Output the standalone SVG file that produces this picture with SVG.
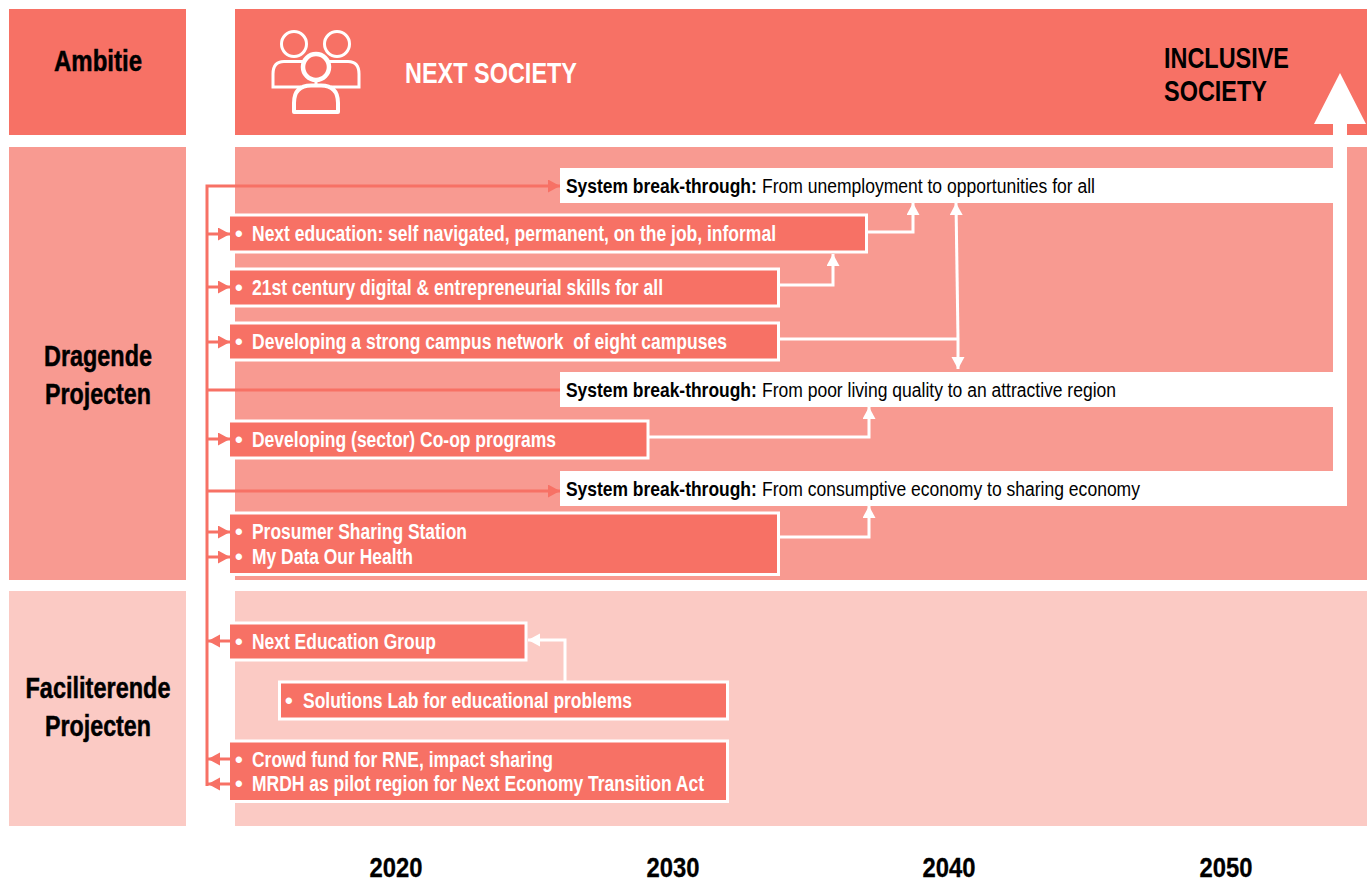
<svg xmlns="http://www.w3.org/2000/svg" width="1367" height="881" viewBox="0 0 1367 881">
<style>
text{font-family:"Liberation Sans Narrow","Liberation Sans",Arial,sans-serif}
.hd{font-weight:700;font-size:30px;fill:#000;stroke:#000;stroke-width:.5;text-anchor:middle}
.yr{font-weight:700;font-size:27px;fill:#000;stroke:#000;stroke-width:.3;text-anchor:middle}
.box{fill:#F77165;stroke:#fff;stroke-width:3}
.lb{font-weight:700;font-size:22px;fill:#fff}
.sb{font-size:20px;fill:#000}
.sbb{font-size:20px;fill:#000;font-weight:700}
.cw{fill:none;stroke:#fff;stroke-width:3}
.cr{fill:none;stroke:#F77165;stroke-width:3}
.bar{fill:#fff}
</style>
<defs>
<marker id="aw" markerUnits="userSpaceOnUse" markerWidth="14" markerHeight="14" refX="12" refY="6.500" orient="auto"><path d="M0 0L12 6.500L0 13Z" fill="#fff"/></marker>
<marker id="ar" markerUnits="userSpaceOnUse" markerWidth="14" markerHeight="14" refX="12" refY="6.500" orient="auto"><path d="M0 0L12 6.500L0 13Z" fill="#F77165"/></marker>
</defs>
<g id="bands">
<rect x="9" y="9" width="177" height="126" fill="#F77165"/>
<rect x="235" y="9" width="1132" height="126" fill="#F77165"/>
<rect x="9" y="147" width="177" height="433" fill="#F89A91"/>
<rect x="235" y="147" width="1132" height="433" fill="#F89A91"/>
<rect x="9" y="591" width="177" height="235" fill="#FBCAC4"/>
<rect x="235" y="591" width="1132" height="235" fill="#FBCAC4"/>
</g>
<g id="headers">
<text class="hd" x="98" y="71" textLength="88" lengthAdjust="spacingAndGlyphs">Ambitie</text>
<text class="hd" x="98" y="366" textLength="108" lengthAdjust="spacingAndGlyphs">Dragende</text>
<text class="hd" x="98" y="404" textLength="106" lengthAdjust="spacingAndGlyphs">Projecten</text>
<text class="hd" x="98" y="698" textLength="145" lengthAdjust="spacingAndGlyphs">Faciliterende</text>
<text class="hd" x="98" y="736" textLength="106" lengthAdjust="spacingAndGlyphs">Projecten</text>
</g>
<g id="icon" fill="none" stroke="#fff" stroke-width="3">
<circle cx="294" cy="44" r="12.500"/>
<circle cx="337" cy="44" r="12.500"/>
<path d="M303 61.500H284Q273 61.500 273 74V87H301M329 61.500H348Q359 61.500 359 74V87H331"/>
<circle cx="316" cy="67" r="13" stroke-width="4.500"/>
<path d="M316 80V85" stroke-width="3"/>
<path d="M294 112V103Q294 85.500 311 85.500H321Q338 85.500 338 103V112Z" stroke-width="4" stroke-linejoin="round"/>
</g>
<g id="next-society"><text x="405" y="83" font-weight="700" font-size="30" fill="#fff" textLength="172" lengthAdjust="spacingAndGlyphs">NEXT SOCIETY</text></g>
<g id="inclusive-society" font-weight="700" font-size="30" fill="#000">
<text x="1164" y="68" textLength="125" lengthAdjust="spacingAndGlyphs">INCLUSIVE</text>
<text x="1164" y="101" textLength="103" lengthAdjust="spacingAndGlyphs">SOCIETY</text>
</g>
<g id="breakthroughs">
<rect class="bar" x="560" y="168" width="773" height="35"/>
<rect class="bar" x="560" y="372" width="773" height="35"/>
<rect class="bar" x="560" y="471" width="787" height="35"/>
<path class="bar" d="M1333 506V124H1314L1340 73L1366 124H1347V506Z"/>
<text class="sbb" transform="translate(566 193) scale(.872 1)">System break-through:</text>
<text class="sb" x="762" y="193" textLength="333" lengthAdjust="spacingAndGlyphs">From unemployment to opportunities for all</text>
<text class="sbb" transform="translate(566 397) scale(.872 1)">System break-through:</text>
<text class="sb" x="762" y="397" textLength="354" lengthAdjust="spacingAndGlyphs">From poor living quality to an attractive region</text>
<text class="sbb" transform="translate(566 496) scale(.872 1)">System break-through:</text>
<text class="sb" x="762" y="496" textLength="378" lengthAdjust="spacingAndGlyphs">From consumptive economy to sharing economy</text>
</g>
<g id="n1"><rect class="box" x="228.500" y="215" width="638" height="37"/><text class="lb" x="235" y="241">•</text><text class="lb" x="252" y="241" textLength="524" lengthAdjust="spacingAndGlyphs">Next education: self navigated, permanent, on the job, informal</text></g>
<g id="n2"><rect class="box" x="228.500" y="269" width="550" height="37"/><text class="lb" x="235" y="295">•</text><text class="lb" x="252" y="295" textLength="411" lengthAdjust="spacingAndGlyphs">21st century digital &amp; entrepreneurial skills for all</text></g>
<g id="n3"><rect class="box" x="228.500" y="323" width="550" height="37"/><text class="lb" x="235" y="349">•</text><text class="lb" x="252" y="349" textLength="475" lengthAdjust="spacingAndGlyphs" xml:space="preserve">Developing a strong campus network  of eight campuses</text></g>
<g id="n4"><rect class="box" x="228.500" y="421" width="419.500" height="37"/><text class="lb" x="235" y="447">•</text><text class="lb" x="252" y="447" textLength="304" lengthAdjust="spacingAndGlyphs">Developing (sector) Co-op programs</text></g>
<g id="n5"><rect class="box" x="228.500" y="513" width="550" height="61.500"/><text class="lb" x="235" y="539">•</text><text class="lb" x="252" y="539" textLength="215" lengthAdjust="spacingAndGlyphs">Prosumer Sharing Station</text><text class="lb" x="235" y="564">•</text><text class="lb" x="252" y="564" textLength="161" lengthAdjust="spacingAndGlyphs">My Data Our Health</text></g>
<g id="n6"><rect class="box" x="228.500" y="623" width="297.500" height="37"/><text class="lb" x="235" y="649">•</text><text class="lb" x="252" y="649" textLength="184" lengthAdjust="spacingAndGlyphs">Next Education Group</text></g>
<g id="n7"><rect class="box" x="279.500" y="682" width="448" height="37"/><text class="lb" x="285" y="708">•</text><text class="lb" x="303" y="708" textLength="329" lengthAdjust="spacingAndGlyphs">Solutions Lab for educational problems</text></g>
<g id="n8"><rect class="box" x="228.500" y="741" width="499" height="60.500"/><text class="lb" x="235" y="767">•</text><text class="lb" x="252" y="767" textLength="301" lengthAdjust="spacingAndGlyphs">Crowd fund for RNE, impact sharing</text><text class="lb" x="235" y="791">•</text><text class="lb" x="252" y="791" textLength="452" lengthAdjust="spacingAndGlyphs">MRDH as pilot region for Next Economy Transition Act</text></g>
<g id="connectors">
<path class="cr" d="M207 786V186H560" marker-end="url(#ar)"/>
<path class="cr" d="M207 390H560"/>
<path class="cr" d="M207 491H560" marker-end="url(#ar)"/>
<path class="cr" d="M207 234H230" marker-end="url(#ar)"/>
<path class="cr" d="M207 287H230" marker-end="url(#ar)"/>
<path class="cr" d="M207 342H230" marker-end="url(#ar)"/>
<path class="cr" d="M207 439H230" marker-end="url(#ar)"/>
<path class="cr" d="M207 532H230" marker-end="url(#ar)"/>
<path class="cr" d="M207 557H230" marker-end="url(#ar)"/>
<path class="cr" d="M230 641H208" marker-end="url(#ar)"/>
<path class="cr" d="M230 759H208" marker-end="url(#ar)"/>
<path class="cr" d="M230 784H208" marker-end="url(#ar)"/>
<path class="cw" d="M867 232H913V203" marker-end="url(#aw)"/>
<path class="cw" d="M779 285H833V254" marker-end="url(#aw)"/>
<path class="cw" d="M779 339H958"/>
<path class="cw" d="M958 339L956 203" marker-end="url(#aw)"/>
<path class="cw" d="M958 339V369" marker-end="url(#aw)"/>
<path class="cw" d="M648 437H869V407" marker-end="url(#aw)"/>
<path class="cw" d="M779 537H869V506" marker-end="url(#aw)"/>
<path class="cw" d="M565 682V640H528" marker-end="url(#aw)"/>
</g>
<g id="years">
<text class="yr" x="396" y="877" textLength="53" lengthAdjust="spacingAndGlyphs">2020</text>
<text class="yr" x="673" y="877" textLength="53" lengthAdjust="spacingAndGlyphs">2030</text>
<text class="yr" x="949" y="877" textLength="53" lengthAdjust="spacingAndGlyphs">2040</text>
<text class="yr" x="1226" y="877" textLength="53" lengthAdjust="spacingAndGlyphs">2050</text>
</g>
</svg>
